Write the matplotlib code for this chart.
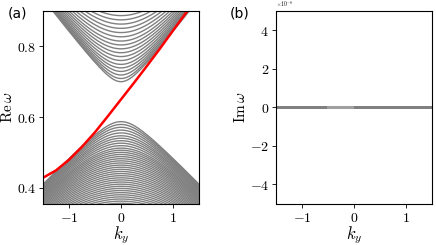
import numpy as np
import matplotlib
matplotlib.use("Agg")
import matplotlib.pyplot as plt
from matplotlib.ticker import FuncFormatter

plt.rcParams['mathtext.fontset'] = 'cm'

# edge mode (red)
edge_k = [-1.5, -1.25, -1.0, -0.75, -0.5, -0.25, 0.0, 0.25, 0.5, 0.75, 1.0, 1.25, 1.3]
edge_w = [0.428, 0.449, 0.479, 0.516, 0.557, 0.603, 0.650, 0.697, 0.745, 0.794, 0.845, 0.895, 0.905]

# bulk bands: extrema at k_y = 0
gap_center = 0.645
upper_min = [0.700, 0.709, 0.719, 0.729, 0.739, 0.749, 0.760, 0.771, 0.782, 0.793,
             0.804, 0.815, 0.827, 0.839, 0.851, 0.863, 0.875, 0.887, 0.899]
lower_max = [0.587, 0.579, 0.571, 0.563, 0.555, 0.547, 0.540, 0.533, 0.526, 0.519,
             0.512, 0.506, 0.500, 0.494, 0.488, 0.482, 0.476, 0.470, 0.464, 0.458,
             0.452, 0.446, 0.440, 0.434, 0.428, 0.422, 0.416, 0.410, 0.404, 0.398,
             0.392, 0.386, 0.380, 0.374, 0.368, 0.362, 0.356]
v_upper = 0.19
v_lower = 0.152

# imaginary parts (units of 1e-8): zero everywhere, small spread near k=-0.3
im_k = [-0.49, -0.03]
im_w = [0.0, 0.0]

k = np.linspace(-1.5, 1.5, 301)

fig = plt.figure(figsize=(4.36, 2.45), dpi=100)
ax1 = fig.add_axes([0.0986, 0.169, 0.358, 0.786])
ax2 = fig.add_axes([0.633, 0.169, 0.357, 0.786])

for w0 in upper_min:
    d = w0 - gap_center
    ax1.plot(k, gap_center + np.sqrt(d**2 + (v_upper * k)**2), color='gray', lw=1.0)
for w0 in lower_max:
    d = gap_center - w0
    ax1.plot(k, gap_center - np.sqrt(d**2 + (v_lower * k)**2), color='gray', lw=1.0)
ax1.plot(edge_k, edge_w, color='red', lw=1.8)

ax1.set_xlim(-1.5, 1.5)
ax1.set_ylim(0.355, 0.9)
ax1.set_xticks([-1, 0, 1])
ax1.set_yticks([0.4, 0.6, 0.8])
ax1.set_ylabel(r'$\mathrm{Re}\,\omega$', fontsize=11, labelpad=1)
ax1.set_xlabel(r'$k_y$', fontsize=12, labelpad=0)

for w0 in upper_min + lower_max:
    ax2.plot(k, np.zeros_like(k), color='gray', lw=0.8)
ax2.plot(im_k, im_w, color='#a0a0a0', lw=2.2)
ax2.set_xlim(-1.5, 1.5)
ax2.set_ylim(-5, 5)
ax2.set_xticks([-1, 0, 1])
ax2.set_yticks([-4, -2, 0, 2, 4])
ax2.set_ylabel(r'$\mathrm{Im}\,\omega$', fontsize=11, labelpad=1)
ax2.set_xlabel(r'$k_y$', fontsize=12, labelpad=0)
ax2.text(0.0, 1.01, r'$\times10^{-8}$', fontsize=4, transform=ax2.transAxes,
         va='bottom', ha='left')

fmt = FuncFormatter(lambda x, p: r'$%g$' % x)
for ax in (ax1, ax2):
    ax.xaxis.set_major_formatter(fmt)
    ax.yaxis.set_major_formatter(fmt)
    ax.tick_params(labelsize=10, length=3, width=0.6, pad=2)
    for s in ax.spines.values():
        s.set_linewidth(0.8)

fig.text(0.018, 0.975, '(a)', fontsize=10, va='top', ha='left')
fig.text(0.528, 0.975, '(b)', fontsize=10, va='top', ha='left')

fig.savefig('out.png', dpi=100)
